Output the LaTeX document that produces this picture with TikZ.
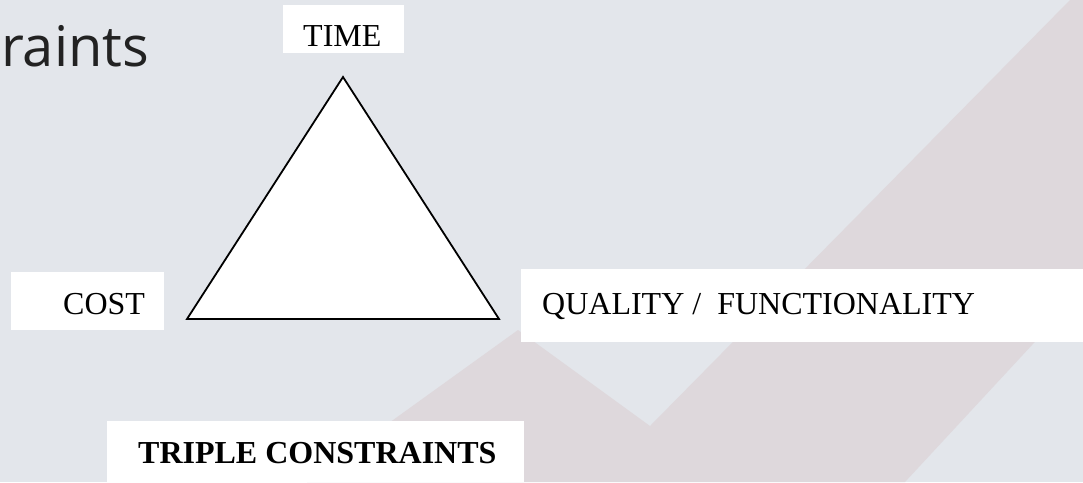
\documentclass[tikz,border=0pt]{standalone}
\usepackage{fontspec}
\setmainfont{Liberation Serif}
\newfontfamily\headfont{Open Sans}
\usepackage{tikz}

\definecolor{slidebg}{HTML}{E3E6EB}
\definecolor{slidepink}{HTML}{DED8DC}
\definecolor{headgray}{HTML}{222222}

\tikzset{
  labelbox/.style={fill=white},
  lbl/.style={inner sep=0pt, font=\fontsize{32}{36}\selectfont, anchor=base west},
  lblbold/.style={lbl, font=\fontsize{32}{36}\selectfont\bfseries}
}

\begin{document}
\begin{tikzpicture}[x=1pt, y=-1pt]
\useasboundingbox (0, 0) rectangle (1083, 482);
\fill [slidebg] (0, 0) rectangle (1083, 482);
% faint chevron of the slide background
\fill [slidepink] (1070, 0) -- (1083, 0) -- (1083, 290) -- (905, 482) -- (307, 482) -- (518, 330) -- (650, 426) -- cycle;

\node [lbl, text=headgray, font=\headfont\fontsize{56}{60}\selectfont] (head) at (1, 66) {raints};

% triangle
\draw [line width=1.8pt, fill=white, line join=miter] (343, 77) -- (499, 319) -- (187, 319) -- cycle;

\fill [labelbox] (283, 5) rectangle (404, 53);
\node [lbl] (time) at (303, 46) {TIME};

\fill [labelbox] (11, 272) rectangle (164, 330);
\node [lbl] (cost) at (63, 314) {COST};

\fill [labelbox] (521, 269) rectangle (1083, 342);
\node [lbl] (quality) at (542, 314) {QUALITY /\ \ FUNCTIONALITY};

\fill [labelbox] (107, 421) rectangle (524, 482);
\node [lblbold] (triple) at (138, 463) {TRIPLE CONSTRAINTS};
\end{tikzpicture}
\end{document}
